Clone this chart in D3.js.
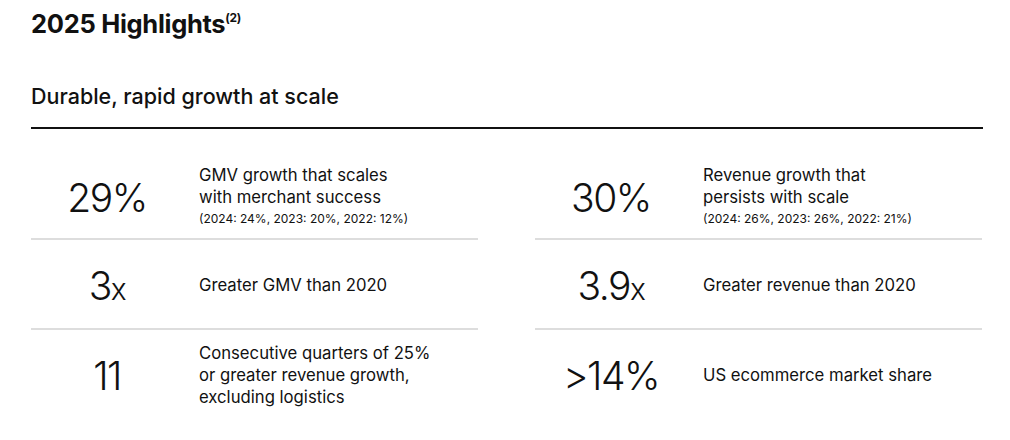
<!DOCTYPE html>
<html lang="en">
<head>
<meta charset="utf-8">
<title>2025 Highlights</title>
<script src="https://cdn.jsdelivr.net/npm/d3@7"></script>
<style>
body { margin:0; background:#fff; }
text { font-family:"Inter","Noto Sans",sans-serif; fill:#111; }
</style>
</head>
<body>
<svg id="chart" width="1010" height="440"></svg>
<script>
// figures, one entry per cell (left column first, then right)
var bigNumbers = ["29%", "3", "11", "30%", "3.9", ">14%"];
var suffixes   = ["", "x", "", "", "x", ""];
var descLines  = [
    ["GMV growth that scales", "with merchant success"],
    ["Greater GMV than 2020"],
    ["Consecutive quarters of 25%", "or greater revenue growth,", "excluding logistics"],
    ["Revenue growth that", "persists with scale"],
    ["Greater revenue than 2020"],
    ["US ecommerce market share"]
];
var notes = ["(2024: 24%, 2023: 20%, 2022: 12%)", "", "", "(2024: 26%, 2023: 26%, 2022: 21%)", "", ""];

var svg = d3.select("#chart");

var title = svg.append("text").attr("x", 31).attr("y", 33)
    .style("font-size", "25.5px").style("font-weight", 700).style("letter-spacing", "-0.3px");
title.append("tspan").text("2025 Highlights");
title.append("tspan").text("(2)").attr("dy", -11).style("font-size", "12px");

svg.append("text").attr("x", 31).attr("y", 104)
    .style("font-size", "21.5px").style("font-weight", 500)
    .text("Durable, rapid growth at scale");

svg.append("line").attr("x1", 31).attr("x2", 983).attr("y1", 128).attr("y2", 128)
    .style("stroke", "#111").style("stroke-width", 2);

var col = d3.scaleOrdinal().domain([0, 1]).range([31, 535]);
var row = d3.scaleLinear().domain([0, 1]).range([198, 286]); // row centres
var colWidth = 447;

var cells = svg.selectAll("g.cell")
    .data(bigNumbers.map(function(d, i) { return {i: i, c: Math.floor(i / 3), r: i % 3}; }))
    .enter().append("g")
    .attr("class", "cell")
    .attr("transform", function(d) {
        var cy = d.r == 2 ? 376 : row(d.r);
        return "translate(" + col(d.c) + "," + cy + ")";
    });

// row dividers under the first two rows
cells.filter(function(d) { return d.r < 2; }).append("line")
    .attr("x1", 0).attr("x2", colWidth)
    .attr("y1", function(d) { return d.r == 0 ? 41 : 43; })
    .attr("y2", function(d) { return d.r == 0 ? 41 : 43; })
    .style("stroke", "#bbb").style("stroke-width", 1);

var big = cells.append("text")
    .attr("x", 76).attr("y", 14)
    .attr("text-anchor", "middle")
    .style("font-size", "39px").style("font-weight", 300).style("letter-spacing", "-1.5px");
big.append("tspan").text(function(d) { return bigNumbers[d.i]; });
big.append("tspan").text(function(d) { return suffixes[d.i]; }).style("font-size", "30px");

cells.each(function(d) {
    var g = d3.select(this);
    var lines = descLines[d.i];
    var hasNote = notes[d.i] !== "";
    var total = lines.length + (hasNote ? 1 : 0);
    var y0 = -(total - 1) * 22 / 2 + 5;
    lines.forEach(function(t, k) {
        g.append("text").attr("x", 168).attr("y", y0 + k * 22)
            .style("font-size", "16.7px").text(t);
    });
    if (hasNote) {
        g.append("text").attr("x", 168).attr("y", y0 + lines.length * 22 - 2)
            .style("font-size", "12px").text(notes[d.i]);
    }
});
</script>
</body>
</html>
